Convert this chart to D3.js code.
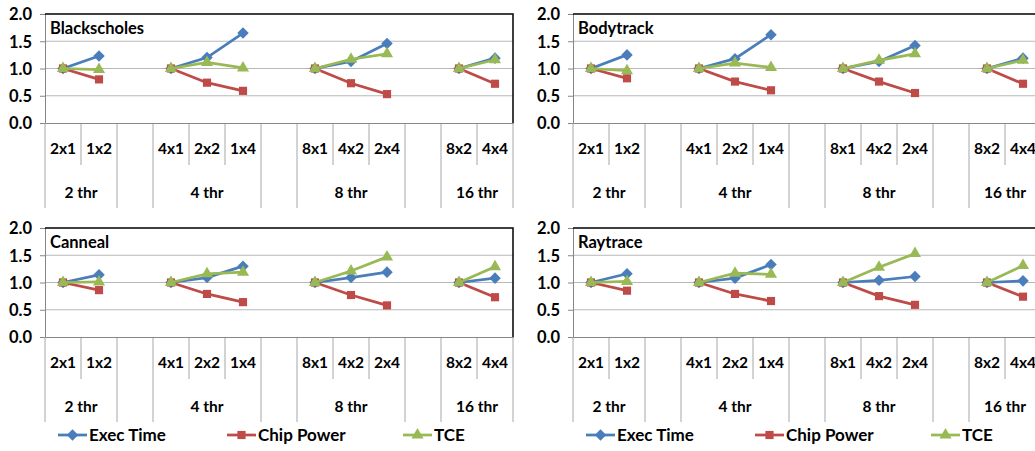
<!DOCTYPE html>
<html>
<head>
<meta charset="utf-8">
<script src="https://cdn.jsdelivr.net/npm/d3@7"></script>
<style>
  body { margin: 0; background: #fff; overflow: hidden; }
  svg text { font-family: Lato, "Liberation Sans", sans-serif; font-weight: 700; fill: #000; }
</style>
</head>
<body>
<svg id="chart" width="1035" height="451"></svg>
<script>
// core configs on the x axis, "" marks the empty slot between thread groups
const configs = ["2x1", "1x2", "", "4x1", "2x2", "1x4", "", "8x1", "4x2", "2x4", "", "8x2", "4x4"];
const threadGroups = ["2 thr", "4 thr", "8 thr", "16 thr"];
const seriesNames = ["Exec Time", "Chip Power", "TCE"];
const yTicks = [0, 0.5, 1.0, 1.5, 2.0];

const blackscholesExec  = [1.00, 1.23, null, 1.00, 1.20, 1.65, null, 1.00, 1.13, 1.46, null, 1.00, 1.19];
const blackscholesPower = [1.00, 0.80, null, 1.00, 0.74, 0.59, null, 1.00, 0.73, 0.53, null, 1.00, 0.72];
const blackscholesTCE   = [1.00, 0.98, null, 1.00, 1.11, 1.01, null, 1.00, 1.17, 1.27, null, 1.00, 1.16];

const bodytrackExec  = [1.00, 1.25, null, 1.00, 1.18, 1.62, null, 1.00, 1.13, 1.42, null, 1.00, 1.19];
const bodytrackPower = [1.00, 0.82, null, 1.00, 0.76, 0.60, null, 1.00, 0.76, 0.55, null, 1.00, 0.72];
const bodytrackTCE   = [1.00, 0.96, null, 1.00, 1.10, 1.02, null, 1.00, 1.15, 1.27, null, 1.00, 1.15];

const cannealExec  = [1.00, 1.14, null, 1.00, 1.09, 1.30, null, 1.00, 1.09, 1.19, null, 1.00, 1.08];
const cannealPower = [1.00, 0.86, null, 1.00, 0.79, 0.64, null, 1.00, 0.77, 0.58, null, 1.00, 0.73];
const cannealTCE   = [1.00, 1.01, null, 1.00, 1.16, 1.19, null, 1.00, 1.21, 1.47, null, 1.00, 1.29];

const raytraceExec  = [1.00, 1.16, null, 1.00, 1.08, 1.33, null, 1.00, 1.04, 1.11, null, 1.00, 1.03];
const raytracePower = [1.00, 0.85, null, 1.00, 0.79, 0.66, null, 1.00, 0.75, 0.59, null, 1.00, 0.74];
const raytraceTCE   = [1.00, 1.02, null, 1.00, 1.17, 1.15, null, 1.00, 1.28, 1.53, null, 1.00, 1.31];

const colors = ["#4a7ebb", "#be4b48", "#98b954"];
const markers = [d3.symbolDiamond2, d3.symbolSquare2, d3.symbolTriangle2];
const markerSizes = [85, 85, 105];

const panels = [
  { title: "Blackscholes", series: [blackscholesExec, blackscholesPower, blackscholesTCE], x: 45,  y: 14,  legend: false },
  { title: "Bodytrack",    series: [bodytrackExec, bodytrackPower, bodytrackTCE],          x: 573, y: 14,  legend: false },
  { title: "Canneal",      series: [cannealExec, cannealPower, cannealTCE],                x: 45,  y: 228, legend: true },
  { title: "Raytrace",     series: [raytraceExec, raytracePower, raytraceTCE],             x: 573, y: 228, legend: true }
];

const w = 468, h = 109;
const svg = d3.select("#chart");

// runs of non-empty configs -> thread groups
const runs = [];
configs.forEach((c, i) => {
  if (c === "") return;
  const last = runs[runs.length - 1];
  if (last && last.end === i) last.end = i + 1;
  else runs.push({ start: i, end: i + 1 });
});
runs.forEach((r, k) => r.label = threadGroups[k]);
const longEdges = new Set();
longEdges.add(0); longEdges.add(configs.length);
runs.forEach(r => { longEdges.add(r.start); longEdges.add(r.end); });

function drawPanel(p) {
  const g = svg.append("g").attr("transform", `translate(${p.x},${p.y})`);

  const x = d3.scaleBand().domain(d3.range(configs.length)).range([0, w]);
  const xEdge = d3.scaleLinear().domain([0, configs.length]).range([0, w]);
  const y = d3.scaleLinear().domain([0, 2]).range([h, 0]);

  // gridlines
  g.append("g").selectAll("line")
    .data(yTicks.filter(t => t > 0 && t < 2))
    .join("line")
      .attr("x1", 0).attr("x2", w)
      .attr("y1", d => y(d)).attr("y2", d => y(d))
      .attr("stroke", "#b8b8b8").attr("stroke-width", 1);

  // y axis
  const yAxis = g.append("g")
    .call(d3.axisLeft(y).tickValues(yTicks).tickFormat(d3.format(".1f")).tickSize(5).tickPadding(8));
  yAxis.select(".domain").attr("stroke", "#868686");
  yAxis.selectAll(".tick line").attr("stroke", "#868686");
  yAxis.selectAll("text").style("font-size", "16.5px").attr("dy", "0.36em");

  // category boundary lines below the plot
  g.append("g").selectAll("line")
    .data(d3.range(configs.length + 1))
    .join("line")
      .attr("x1", d => xEdge(d)).attr("x2", d => xEdge(d))
      .attr("y1", h).attr("y2", d => h + (longEdges.has(d) ? 85 : 42))
      .attr("stroke", "#a6a6a6").attr("stroke-width", 1);

  // x axis (config labels)
  const xAxis = g.append("g").attr("transform", `translate(0,${h})`)
    .call(d3.axisBottom(x).tickSize(0).tickPadding(20).tickFormat(i => configs[i]));
  xAxis.select(".domain").attr("stroke", "#868686");
  xAxis.selectAll("text").style("font-size", "15.5px");

  // thread group labels
  g.append("g").selectAll("text")
    .data(runs)
    .join("text")
      .attr("x", d => (xEdge(d.start) + xEdge(d.end)) / 2)
      .attr("y", h + 69)
      .attr("dy", "0.36em")
      .attr("text-anchor", "middle")
      .style("font-size", "15.5px")
      .text(d => d.label);

  // top and right border
  g.append("path")
    .attr("d", `M0,0H${w}V${h}`)
    .attr("fill", "none").attr("stroke", "#000").attr("stroke-width", 1.5);

  g.append("text")
    .attr("x", 5).attr("y", 20)
    .style("font-size", "16.5px")
    .text(p.title);

  const line = d3.line()
    .defined(d => d != null)
    .x((d, i) => x(i) + x.bandwidth() / 2)
    .y(d => y(d));

  p.series.forEach((vals, s) => {
    g.append("path")
      .datum(vals)
      .attr("d", line)
      .attr("fill", "none")
      .attr("stroke", colors[s])
      .attr("stroke-width", 2.75);
    g.append("g").selectAll("path")
      .data(vals.map((v, i) => ({ v, i })).filter(d => d.v != null))
      .join("path")
        .attr("transform", d => `translate(${x(d.i) + x.bandwidth() / 2},${y(d.v)})`)
        .attr("d", d3.symbol().type(markers[s]).size(markerSizes[s]))
        .attr("fill", colors[s]);
  });

  if (p.legend) {
    const lg = g.append("g").attr("transform", `translate(0,${h + 98})`);
    const offsets = [13, 182, 358];
    seriesNames.forEach((name, s) => {
      const item = lg.append("g").attr("transform", `translate(${offsets[s]},0)`);
      item.append("line").attr("x1", 0).attr("x2", 29).attr("y1", 0).attr("y2", 0)
        .attr("stroke", colors[s]).attr("stroke-width", 2.75);
      item.append("path").attr("transform", "translate(14.5,0)")
        .attr("d", d3.symbol().type(markers[s]).size(markerSizes[s]))
        .attr("fill", colors[s]);
      item.append("text").attr("x", 31).attr("dy", "0.36em")
        .style("font-size", "17px").text(name);
    });
  }
}

panels.forEach(drawPanel);
</script>
</body>
</html>
